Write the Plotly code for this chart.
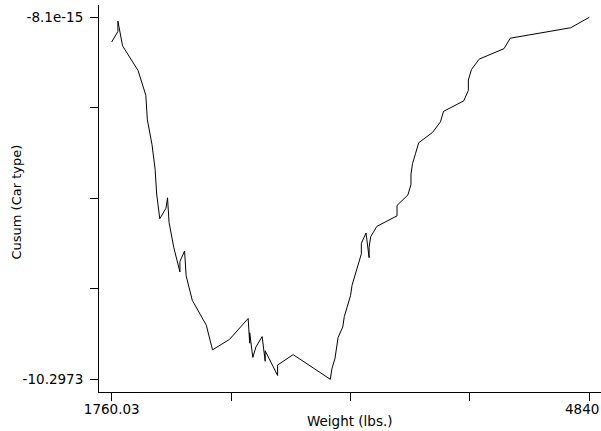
import plotly.graph_objects as go

# Weight (lbs.) of each car, sorted (ties: foreign first)
weight = [1760, 1800, 1800, 1830, 1930, 1980, 1990, 2020, 2040, 2050,
          2070, 2110, 2120, 2130, 2160, 2200, 2200, 2230, 2240, 2280,
          2370, 2410, 2520, 2580, 2640, 2650, 2650, 2670, 2690, 2730,
          2750, 2750, 2830, 2830, 2930, 3170, 3180, 3200, 3210, 3220,
          3250, 3260, 3280, 3300, 3310, 3330, 3350, 3370, 3370, 3400,
          3420, 3420, 3430, 3470, 3600, 3600, 3670, 3690, 3690, 3700,
          3720, 3740, 3830, 3880, 3900, 4030, 4060, 4060, 4080, 4130,
          4290, 4330, 4720, 4840]

# Cusum (Car type) at each point
cusum = [-0.7027, -0.4054, -0.1081, -0.8108, -1.5135, -2.2162, -2.9189, -3.6216, -4.3243, -5.0270,
         -5.7297, -5.4324, -5.1351, -5.8378, -6.5405, -7.2432, -6.9459, -6.6486, -7.3514, -8.0541,
         -8.7568, -9.4595, -9.1622, -8.8649, -8.5676, -9.2703, -8.9730, -9.6757, -9.3784, -9.0811,
         -9.7838, -9.4865, -10.1892, -9.8919, -9.5946, -10.2973, -10.0000, -9.7027, -9.4054, -9.1081,
         -8.8108, -8.5135, -8.2162, -7.9189, -7.6216, -7.3243, -7.0270, -6.7297, -6.4324, -6.1351,
         -6.8378, -6.5405, -6.2432, -5.9459, -5.6486, -5.3514, -5.0541, -4.7568, -4.4595, -4.1622,
         -3.8649, -3.5676, -3.2703, -2.9730, -2.6757, -2.3784, -2.0811, -1.7838, -1.4865, -1.1892,
         -0.8919, -0.5946, -0.2973, -8.1e-15]

x_min_label, x_max_label = "1760.03", "4840"
y_min_label, y_max_label = "-10.2973", "-8.1e-15"
x_min_val, x_max_val = 1760.03, 4840.0
y_min_val, y_max_val = -10.2973, 0.0

x_title = "Weight (lbs.)"
y_title = "Cusum (Car type)"

FONT = "DejaVu Sans"

xticks = [x_min_val + i * (x_max_val - x_min_val) / 4 for i in range(5)]
yticks = [y_min_val + i * (y_max_val - y_min_val) / 4 for i in range(5)]

fig = go.Figure()
fig.add_trace(go.Scatter(x=weight, y=cusum, mode="lines",
                         line=dict(color="black", width=1), hoverinfo="skip",
                         showlegend=False))

fig.update_layout(
    width=601, height=431,
    margin=dict(l=99, r=0, t=5, b=39),
    paper_bgcolor="white", plot_bgcolor="white",
    font=dict(family=FONT, size=13.5, color="black"),
    xaxis=dict(range=[1678.13, 4915.45], showgrid=False, zeroline=False,
               showline=True, linecolor="black", linewidth=1,
               ticks="outside", ticklen=8, tickcolor="black", tickwidth=1,
               tickvals=xticks, ticktext=[x_min_label, "", "", "", ""],
               ticklabelstandoff=-3,
               tickfont=dict(family=FONT, size=13.5, color="black")),
    yaxis=dict(range=[-10.6586, 0.3499], showgrid=False, zeroline=False,
               showline=True, linecolor="black", linewidth=1,
               ticks="outside", ticklen=8, tickcolor="black", tickwidth=1,
               tickvals=yticks, ticktext=[y_min_label, "", "", "", y_max_label],
               ticklabelstandoff=4,
               tickfont=dict(family=FONT, size=13.5, color="black")),
    annotations=[
        dict(text=x_max_label, x=x_max_val, xref="x", y=0, yref="paper",
             xanchor="center", yanchor="top", xshift=-7, yshift=-7,
             showarrow=False, font=dict(family=FONT, size=13.5, color="black")),
        dict(text=x_title, x=0.5, xref="paper", y=0, yref="paper",
             xanchor="center", yanchor="middle", yshift=-29,
             showarrow=False, font=dict(family=FONT, size=13.5, color="black")),
        dict(text=y_title, x=0, xref="paper", y=0.5, yref="paper",
             xanchor="center", yanchor="middle", xshift=-83, yshift=-4,
             textangle=-90, showarrow=False,
             font=dict(family=FONT, size=13, color="black")),
    ],
)

fig.write_html("out.html")
